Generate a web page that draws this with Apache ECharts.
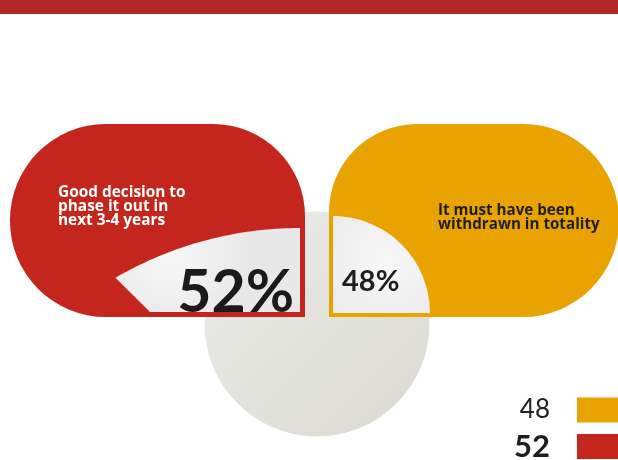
<!DOCTYPE html>
<html>
<head>
<meta charset="utf-8">
<script src="https://cdn.jsdelivr.net/npm/echarts@6/dist/echarts.min.js"></script>
<style>
  html, body { margin: 0; padding: 0; background: #ffffff; }
  #chart { width: 618px; height: 460px; }
</style>
</head>
<body>
<div id="chart"></div>
<script>
// Survey answers and their shares (percent)
const categories = [
  'Good decision to\nphase it out in\nnext 3-4 years',
  'It must have been\nwithdrawn in totality'
];
const values = [52, 48];
const colors = ['#C4261D', '#E9A300'];
// legend lists the smaller share first
const legendOrder = [1, 0];

const chart = echarts.init(document.getElementById('chart'));

const FONT = 'Lato, "Open Sans", sans-serif';
const BODY_FONT = '"Open Sans", Lato, sans-serif';
const maxValue = Math.max.apply(null, values);

// Grey disc behind the two answer panels (a pie of both answers)
const discGradient = new echarts.graphic.LinearGradient(0, 0, 1, 1, [
  { offset: 0, color: '#ECECEA' },
  { offset: 1, color: '#DADAD1' }
]);
discGradient.global = true;
discGradient.x = 205; discGradient.y = 212; discGradient.x2 = 428; discGradient.y2 = 436;

const leftPale = {
  type: 'radial', x: 0.3, y: 0.35, r: 0.9,
  colorStops: [{ offset: 0, color: '#F8F8F8' }, { offset: 1, color: '#E8E8E8' }]
};
const rightPale = {
  type: 'radial', x: 0.55, y: 0.45, r: 0.8,
  colorStops: [{ offset: 0, color: '#F8F8F8' }, { offset: 1, color: '#EAEAEA' }]
};

// Pale window in the left panel: a slice of a wide circle, cut square at the
// panel's inner edges and diagonally at its lower-left
function leftWindow() {
  const cx = 300, cy = 595, r = 367;
  const a0 = Math.atan2(277 - cy, 115 - cx);
  const a1 = -Math.PI / 2;
  const pts = [];
  const n = 40;
  for (let k = 0; k <= n; k++) {
    const a = a0 + (a1 - a0) * k / n;
    pts.push([cx + r * Math.cos(a), cy + r * Math.sin(a)]);
  }
  pts.push([300, 312], [150, 312]);
  return pts;
}

const option = {
  animation: false,
  legend: {
    orient: 'vertical',
    right: 0,
    top: 397,
    height: 80,
    padding: 0,
    align: 'right',
    itemWidth: 41,
    itemHeight: 25,
    itemGap: 8,
    selectedMode: false,
    icon: 'rect',
    data: legendOrder.map(i => ({ name: categories[i], itemStyle: { color: colors[i], borderWidth: 0 } })),
    formatter: function (name) {
      const v = values[categories.indexOf(name)];
      return (v === maxValue ? '{b|' : '{n|') + v + '}';
    },
    textStyle: {
      rich: {
        n: { fontFamily: FONT, fontSize: 26, color: '#222222', width: 40, align: 'right', lineHeight: 25, padding: [0, 22, 0, 0] },
        b: { fontFamily: FONT, fontSize: 31, fontWeight: 'bold', color: '#1E1E1E', width: 40, align: 'right', lineHeight: 25, padding: [0, 22, 0, 0] }
      }
    }
  },
  series: [{
    type: 'pie',
    z: 1,
    silent: true,
    center: [317, 324],
    radius: [0, 112],
    startAngle: 90,
    label: { show: false },
    labelLine: { show: false },
    emphasis: { disabled: true },
    itemStyle: { color: discGradient, borderColor: discGradient, borderWidth: 1 },
    data: categories.map((c, i) => ({ name: c, value: values[i] }))
  }],
  graphic: { elements: [
    // header band
    { type: 'rect', z: 10, shape: { x: 0, y: 0, width: 618, height: 14 }, style: { fill: '#B12926' } },
    // left answer panel
    { type: 'rect', z: 10, shape: { x: 10, y: 124, width: 295, height: 193, r: [96, 92, 0, 96] }, style: { fill: colors[0] } },
    { type: 'polygon', z: 11, shape: { points: leftWindow() }, style: { fill: leftPale } },
    { type: 'text', z: 12, x: 58, y: 186,
      style: { text: categories[0], fill: '#FFFFFF', font: 'bold 15.4px ' + BODY_FONT, lineHeight: 14, textVerticalAlign: 'top' } },
    { type: 'text', z: 12, x: 294, y: 322,
      style: { text: values[0] + '%', fill: '#1C1A18', font: 'bold 59px ' + FONT, textAlign: 'right', textVerticalAlign: 'bottom' } },
    // right answer panel
    { type: 'rect', z: 10, shape: { x: 329, y: 124, width: 290, height: 193, r: [88, 96, 96, 0] }, style: { fill: colors[1] } },
    { type: 'sector', z: 11, shape: { cx: 333, cy: 313, r: 97, startAngle: -Math.PI / 2, endAngle: 0 }, style: { fill: rightPale } },
    { type: 'text', z: 12, x: 438, y: 204,
      style: { text: categories[1], fill: '#1E1E1E', font: 'bold 15.2px ' + BODY_FONT, lineHeight: 13.5, textVerticalAlign: 'top' } },
    { type: 'text', z: 12, x: 342, y: 296,
      style: { text: values[1] + '%', fill: '#1E1E1E', font: 'bold 29px ' + FONT, textAlign: 'left', textVerticalAlign: 'bottom' } }
  ] }
};

chart.setOption(option);
</script>
</body>
</html>
